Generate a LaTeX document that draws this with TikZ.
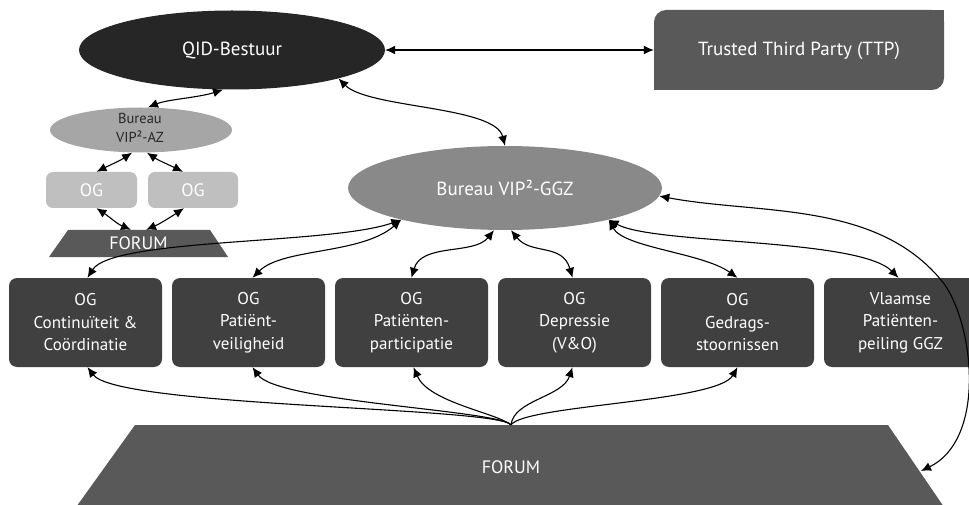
\documentclass[tikz,border=0pt]{standalone}
\usepackage{fontspec}
\setmainfont{PT Sans}
\usetikzlibrary{arrows.meta,shapes.geometric}
\definecolor{cQID}{HTML}{262626}
\definecolor{cTTP}{HTML}{595959}
\definecolor{cGGZ}{HTML}{898989}
\definecolor{cAZ}{HTML}{A6A6A6}
\definecolor{cOGs}{HTML}{BFBFBF}
\definecolor{cBox}{HTML}{404040}
\definecolor{cForum}{HTML}{595959}
\begin{document}
\begin{tikzpicture}[x=1pt,y=-1pt,
  conn/.style={line width=1.1pt, {Latex[length=10pt,width=9pt]}-{Latex[length=10pt,width=9pt]}},
  oneway/.style={line width=1.1pt, -{Latex[length=10pt,width=9pt]}},
  bigbox/.style={rectangle, rounded corners=8pt, fill=cBox, text=white, minimum width=153pt, minimum height=89pt, align=center, inner sep=0pt, font=\fontsize{17}{22.5}\selectfont},
  smallog/.style={rectangle, rounded corners=7pt, fill=cOGs, text=white, minimum height=36pt, inner sep=0pt, font=\fontsize{18}{20}\selectfont},
  bigtext/.style={text=white, inner sep=0pt, font=\fontsize{19}{22}\selectfont}
]
\useasboundingbox (0,0) rectangle (969,505);

% top
\node[ellipse, fill=cQID, minimum width=306pt, minimum height=79pt, inner sep=0pt, bigtext] (qid) at (232,50) {QID-Bestuur};
\node[rectangle, rounded corners=12pt, fill=cTTP, minimum width=290pt, minimum height=80pt, inner sep=0pt] (ttp) at (799,50) {};
\fill[cTTP] (ttp.north east) rectangle ([xshift=-14pt,yshift=-14pt]ttp.north east);
\fill[cTTP] (ttp.south west) rectangle ([xshift=14pt,yshift=14pt]ttp.south west);
\node[bigtext] (ttptext) at ([yshift=-1pt]ttp.center) {Trusted Third Party (TTP)};

\node[ellipse, fill=cGGZ, minimum width=314pt, minimum height=84pt, inner sep=0pt, bigtext] (ggz) at (505,188) {Bureau VIP²-GGZ};

% left small cluster
\node[ellipse, fill=cAZ, minimum width=182pt, minimum height=45pt, inner sep=0pt] (az) at (141,130) {};
\node[align=center, text=cQID, inner sep=0pt, font=\fontsize{14.5}{19}\selectfont] (aztext) at (140,128) {Bureau\\VIP²-AZ};
\node[smallog, minimum width=91pt] (oga) at (91.5,190) {OG};
\node[smallog, minimum width=90pt] (ogb) at (193,190) {OG};
\fill[cForum] (68,230) -- (210,230) -- (228,257) -- (49,257) -- cycle;
\node[bigtext, minimum width=140pt, minimum height=27pt, font=\fontsize{18}{20}\selectfont] (forumS) at (138.5,243.5) {FORUM};

% boxes
\node[bigbox] (box1) at (85.5,322.5) {OG\\Continuïteit \&\\Coördinatie};
\node[bigbox] (box2) at (248.5,322.5) {OG\\Patiënt-\\veiligheid};
\node[bigbox] (box3) at (411.5,322.5) {OG\\Patiënten-\\participatie};
\node[bigbox] (box4) at (574.5,322.5) {OG\\Depressie\\(V\&O)};
\node[bigbox] (box5) at (737.5,322.5) {OG\\Gedrags-\\stoornissen};
\node[bigbox] (box6) at (900.5,322.5) {Vlaamse\\Patiënten-\\peiling GGZ};

% big forum
\fill[cForum] (135,425) -- (888,425) -- (946,510) -- (74,510) -- cycle;
\node[bigtext, minimum width=700pt, minimum height=84pt, font=\fontsize{18}{20}\selectfont] (forumB) at (511,467) {FORUM};
\coordinate (fedge) at (921,471);

% connectors top
\draw[conn] (qid.east) -- (ttp.west);
\draw[conn] ([xshift=-9pt]qid.south) .. controls +(-25,8) and +(20,-8) .. ([xshift=7pt]az.north);
\draw[conn] (qid.-15) .. controls +(30,30) and +(-10,-40) .. (ggz.north);

% small cluster
\draw[conn] ([xshift=-9pt]az.south) .. controls +(-12,8) and +(12,-6) .. ([xshift=5pt]oga.north);
\draw[conn] ([xshift=6pt]az.south) .. controls +(12,8) and +(-12,-6) .. ([xshift=-10pt]ogb.north);
\draw[conn] ([xshift=5pt]oga.south) .. controls +(12,8) and +(-14,-6) .. ([xshift=-7.5pt]forumS.north);
\draw[conn] ([xshift=-9pt]ogb.south) .. controls +(-12,8) and +(14,-6) .. ([xshift=7.5pt]forumS.north);

% GGZ to boxes
\draw[conn] (ggz.197) .. controls +(-70,25) and +(25,-40) .. ([xshift=2pt]box1.north);
\draw[conn] (ggz.197) .. controls +(-40,35) and +(30,-30) .. ([xshift=4pt]box2.north);
\draw[conn] ([xshift=-11pt]ggz.south) .. controls +(-20,25) and +(10,-35) .. (box3.north);
\draw[conn] ([xshift=6pt]ggz.south) .. controls +(20,25) and +(-10,-35) .. ([xshift=-2pt]box4.north);
\draw[conn] (ggz.-17) .. controls +(15,28) and +(-35,-25) .. (box5.north);
\draw[conn] (ggz.-17) .. controls +(45,25) and +(-40,-40) .. ([xshift=-2pt]box6.north);
\draw[conn] (ggz.-3) .. controls (760,215) and (880,200) .. (945,285) .. controls (975,330) and (985,440) .. (fedge);

% forum fan
\draw[oneway] (forumB.north) .. controls +(-15,-18) and +(30,40) .. ([xshift=2pt]box1.south);
\draw[oneway] (forumB.north) .. controls +(-15,-15) and +(25,35) .. ([xshift=4pt]box2.south);
\draw[oneway] (forumB.north) .. controls +(-15,-12) and +(15,35) .. ([xshift=2pt]box3.south);
\draw[oneway] (forumB.north) .. controls +(3,-25) and +(-10,30) .. ([xshift=-2pt]box4.south);
\draw[oneway] (forumB.north) .. controls +(15,-20) and +(-20,35) .. (box5.south);
\end{tikzpicture}
\end{document}
